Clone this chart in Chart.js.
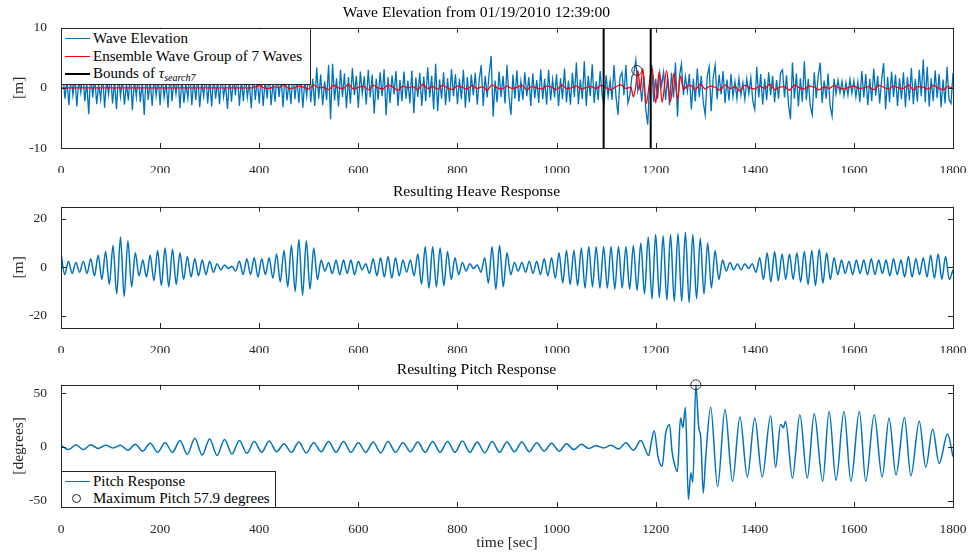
<!DOCTYPE html>
<html>
<head>
<meta charset="utf-8">
<script src="https://cdn.jsdelivr.net/npm/chart.js@4.4.1/dist/chart.umd.min.js"></script>
<style>
  html, body { margin: 0; padding: 0; background: #fff; }
  #wrap { position: relative; width: 976px; height: 558px; overflow: hidden; font-family: 'Liberation Serif', serif; }
  canvas { position: absolute; left: 0; }
  .legend { position: absolute; background: #fff; border: 1px solid #262626; font-size: 15px; color: #000; box-sizing: border-box; }
  .legend .row { position: absolute; left: 0; height: 17px; line-height: 17px; white-space: nowrap; }
  .legend .swatch { position: absolute; left: 3px; top: 8px; width: 25px; height: 0; border-top: 1.4px solid; }
  .legend .ring { position: absolute; left: 10px; top: 4px; width: 7px; height: 7px; border: 1px solid #262626; border-radius: 50%; }
  .legend .label { position: absolute; left: 31px; top: 0; }
  .legend sub { font-size: 10px; vertical-align: -3px; line-height: 0; }
</style>
</head>
<body>
<div id="wrap">
  <canvas id="waveChart" width="976" height="173" style="top:0px"></canvas>
  <canvas id="heaveChart" width="976" height="174" style="top:179px"></canvas>
  <canvas id="pitchChart" width="976" height="201" style="top:357px"></canvas>

  <div class="legend" style="left:61px; top:28px; width:250px; height:57px;">
    <div class="row" style="top:0.5px"><span class="swatch" style="border-color:#0072BD"></span><span class="label">Wave Elevation</span></div>
    <div class="row" style="top:18.5px"><span class="swatch" style="border-color:#FF0000"></span><span class="label">Ensemble Wave Group of 7 Waves</span></div>
    <div class="row" style="top:35.5px"><span class="swatch" style="border-color:#000; border-top-width:2px"></span><span class="label">Bounds of <i>τ</i><sub><i>search7</i></sub></span></div>
  </div>
  <div class="legend" style="left:61px; top:471px; width:215px; height:37px;">
    <div class="row" style="top:0.5px"><span class="swatch" style="border-color:#0072BD"></span><span class="label">Pitch Response</span></div>
    <div class="row" style="top:17.5px"><span class="ring"></span><span class="label">Maximum Pitch 57.9 degrees</span></div>
  </div>
</div>
<script>
// ---- data ----
const timeTicks = [0, 200, 400, 600, 800, 1000, 1200, 1400, 1600, 1800];
const waveTicks = [-10, 0, 10];
const heaveTicks = [-20, 0, 20];
const pitchTicks = [-50, 0, 50];

// wave elevation [m], one sample every 4 s from t = 0
const waveStep = 4;
const waveElevation = [
  0.5, 2.1, -1.8, 1.2, -2.9, 2.4, -1.2, 1.8, -3.1, 1.5, -0.8, 2.6, -2.2, 0.9, -4.4, 2.8, -1.6, 1.9, -2.7, 0.6, -1.9, 2.3, -3.3, 1.4, -1.1,
  2.5, -2.6, 1.1, -3.5, 2.2, -1.4, 1.6, -2.8, 0.7, -2.1, 2.9, -3.7, 1.3, -1.5, 2.4, -2.4, 0.9, -4.5, 2.7, -2.0, 1.2, -3.0, 2.0, -1.3, 1.7,
  -2.9, 2.3, -1.6, 1.0, -3.3, 2.6, -2.2, 1.5, -1.0, 2.2, -3.4, 1.8, -2.5, 0.8, -1.7, 2.8, -2.9, 1.4, -2.0, 2.1, -3.2, 1.0, -1.4, 2.5, -2.6,
  1.6, -3.1, 2.2, -1.8, 1.1, -2.7, 2.9, -1.5, 0.6, -3.5, 2.0, -2.3, 1.7, -1.2, 2.6, -3.0, 1.3, -2.2, 2.4, -1.6, 0.9, -3.4, 2.7, -2.0, 1.5,
  -2.6, 2.1, -3.0, 1.4, -1.8, 2.8, -2.9, 1.0, -2.3, 2.5, -1.5, 1.8, -3.2, 2.3, -2.1, 0.8, -2.7, 3.0, -1.9, 1.6, -2.5, 2.2, -3.3, 1.2, -1.4,
  2.9, -2.4, 1.5, -3.0, 3.4, -1.8, 2.2, -2.9, 1.1, -2.0, 3.8, -5.2, 4.0, -2.1, 1.6, -3.1, 3.0, -1.5, 2.4, -3.4, 1.8, -2.6, 3.3, -1.2, 2.0,
  -3.3, 2.7, -1.0, 1.9, -2.8, 3.0, -1.6, 2.2, -4.3, 1.5, -2.0, 2.6, -1.4, 3.1, -4.6, 1.8, -2.5, 2.1, -1.1, 2.8, -3.0, 1.3, -2.2, 2.7, -1.8,
  1.2, -2.6, 2.9, -4.2, 1.7, -1.5, 2.5, -3.0, 1.9, -2.2, 3.4, -1.6, 2.0, -3.6, 4.0, -3.9, 1.4, -1.8, 2.6, -2.9, 1.6, -2.3, 3.1, -1.4, 2.3,
  -2.7, 1.5, -1.9, 3.0, -3.3, 1.8, -2.4, 2.2, -1.2, 2.5, -2.8, 1.4, 3.8, -3.0, 2.0, -1.6, 2.4, 5.3, -4.8, 1.2, -2.4, 2.7, -1.5, 2.0, -2.6,
  3.8, -1.5, -4.5, 2.2, -1.8, 2.9, -2.3, 1.1, -2.0, 2.6, -1.4, 1.8, -3.0, 2.4, -1.7, 1.3, -2.5, 3.1, -1.9, 1.5, -2.8, 3.0, -2.1, 1.4, -1.6,
  2.3, -3.0, 1.6, -1.9, 3.2, -2.4, 1.2, -2.8, 2.5, -1.5, 4.2, -2.7, 1.4, -1.9, 4.4, -3.0, 2.0, -1.4, 3.9, -2.5, 1.1, -2.0, 2.8, -1.3, -2.8,
  2.1, -1.4, 1.2, -2.0, 3.8, -1.5, -4.5, 1.8, 2.6, -1.2, 3.8, -2.5, -1.2, 1.9, 2.4, 4.6, -0.5, 1.0, -2.3, 2.0, -3.6, -6.1, 1.2, 3.8, -2.3,
  1.5, -1.8, 2.5, 0.4, 2.6, -2.0, 1.7, -2.9, 2.5, -1.6, 4.2, -4.8, 2.0, 4.0, -1.2, 1.9, -0.6, 2.3, -3.6, 1.5, -2.2, 3.2, -1.5, 2.0, -2.4,
  -4.5, 1.9, 3.5, -3.9, 1.6, 3.8, -1.9, 2.2, -1.1, 2.8, -2.5, 1.4, -2.1, 2.3, -1.5, 1.0, -1.8, 1.6, -1.2, 0.9, -1.9, 1.5, -1.0, 1.7, -2.2,
  -3.6, 3.5, -1.6, 2.3, -2.8, 1.5, -2.0, 2.6, -1.2, 2.0, -2.4, 1.3, -1.8, 2.5, 3.0, -1.6, 2.1, -2.7, -5.2, 4.2, -1.8, 2.4, -3.1, 1.6, -2.3,
  4.4, -2.0, 1.5, -3.0, -4.5, 2.6, -1.7, 1.9, 4.2, -2.5, 1.2, -1.8, 2.4, -3.0, -4.7, 1.5, -1.0, 1.3, -0.8, 1.1, -1.3, 0.9, -1.2, 1.4, -0.9,
  1.2, -1.5, 1.0, -2.4, 2.8, -1.6, 2.3, -2.9, 1.5, -2.2, 3.2, -1.3, 2.0, -2.6, 1.4, 4.1, -3.6, 1.8, -2.4, 2.7, -1.5, 2.2, -3.0, 1.6, -1.9,
  2.6, -3.2, 1.8, -2.1, 3.3, -2.7, 1.5, -2.3, 3.0, -1.4, 4.7, -2.4, 3.5, -3.1, 1.6, -2.2, 2.9, -1.7, 2.3, -3.2, 1.4, -2.6, 3.5, -2.0, -2.6,
  2.5
];

// ensemble wave group (red): flat start, small ripples, the 7-wave group, ripples again
const ensembleFlatTime = [0, 370];
const ensembleFlatValue = [0, 0];
const rippleStep = 10;
const rippleStart1 = 380;
const ensembleRipple1 = [
  0, 0.1, 0.4, 0, -0.1, 0.2, 0, 0.5, -0.1, 0, 0.3, 0.1, -0.2, 0.5, 0, 0.1, -0.3, 0.4, 0, -0.1,
  0.6, -0.2, 0.1, 0.3, -0.3, 0.4, 0, -0.2, 0.5, 0.1, -0.4, 0.3, 0, 0.2, -0.3, 0.6, -0.1, 0.2, -0.2, 0.4,
  0, -0.3, 0.3, 0.1, -0.2, 0.4, -0.1, 0.2, -0.4, 0.5, 0, -0.2, 0.3, -0.1, 0.1, 0.4, -0.3, 0.2, 0, -0.2,
  0.3, 0.1, -0.3, 0.5, -0.1, 0, 0.3, -0.2, 0.1, 0.2, -0.1, 0.4, 0, -0.3, 0.2, 0.5, -0.1
];
const ensembleGroupTime = [1150, 1155, 1160, 1164, 1169, 1174, 1181, 1187, 1193, 1200, 1207, 1213, 1222, 1230, 1237, 1244, 1250, 1256, 1262];
const ensembleGroupValue = [0.1, -1.5, 0.3, 2.9, -0.5, 3.2, -2.6, 0.5, 3.2, -2.5, 2.6, -2.4, 2.8, -2.3, 2.5, -1.9, 2.0, -0.3, 0.2];
const rippleStart2 = 1270;
const ensembleRipple2 = [
  0.4, -0.3, 0.6, -0.2, 0.3, 0.1, -0.4, 0.5, -0.1, 0.2, -0.5, 0.4, 0, -0.2, 0.3, -0.1, 0.6, -0.3, 0.1, 0.2,
  -0.4, 0.5, 0, -0.2, 0.3, 0.1, -0.3, 0.2, -0.1, 0.4, 0, -0.2, 0.1, 0.3, -0.1, 0, 0.2, -0.3, 0.4, 0.1,
  -0.2, 0.3, 0, -0.1, 0.5, -0.3, 0.2, 0.1, -0.2, 0.4, 0, -0.3, 0.2, -0.1
];

const boundsTime = [1095, 1190];
const groupMarkTime = [1162];
const groupMarkValue = [2.9];

// heave response [m], peaks and troughs every 7.5 s
const heaveStep = 7.5;
const heaveResponse = [
  6, -3, 2.5, -2.5, 2, -2, 2.5, -2.5, 3.5, -3.5,
  5, -5, 6.5, -7, 9, -11, 12.5, -12, 11, -8,
  6, -3.5, 3, -4, 5, -5.5, 7, -7.5, 8, -8,
  7.5, -7, 6, -5, 4.5, -4, 3.5, -3.5, 3, -3,
  2.5, -2, 1.5, -1, 1, -0.5, 0.5, -1.5, 2.5, -3,
  3.5, -3, 4, -4, 3.5, -3, 4, -4.5, 5.5, -6,
  7, -8, 9, -10, 11.5, -11.5, 11, -9, 8, -5,
  3, -1.5, 2, -2.5, 3, -3, 3, -2.5, 3, -3,
  2.5, -1, 1.5, -2.5, 3.5, -3.5, 4, -4, 4.5, -4.5,
  4, -3.5, 3, -2, 3, -3.5, 5.5, -7, 8.5, -8.5,
  8.5, -8, 8, -7.5, 6.5, -5, 4, -3, 2, -1.5,
  1.5, -0.5, 1, -2, 4, -6.5, 8.5, -9, 9, -8,
  6, -3, 2, -1.5, 2, -2, 2.5, -2.5, 2.5, -3,
  3.5, -3.5, 4, -4.5, 6, -6.5, 7, -7, 7, -7.5,
  8, -8.5, 8.5, -8, 8.5, -8.5, 8.5, -8.5, 8.5, -9,
  8.5, -8.5, 8.5, -9, 9, -9.5, 10, -11, 12.5, -13,
  13.5, -12.5, 13, -13.5, 13.5, -14, 14, -14, 14.5, -14.5,
  13.5, -13, 12, -11, 10, -8.5, 7, -5, 3, -1.5,
  2, -1, 1.5, -1, 1.5, -0.5, 1.5, -2, 4, -5,
  6, -6, 6.5, -5.5, 5.5, -5, 5.5, -5, 6, -6,
  6.5, -7, 7, -7.5, 7.5, -6.5, 6, -5, 4, -3,
  3, -2.5, 2.5, -3, 3, -2.5, 3, -3, 3.5, -3,
  3, -2.5, 3, -3.5, 3.5, -3, 3, -4, 4.5, -4,
  3.5, -3, 4, -4, 5, -4.5, 5.5, -5, 4.5, -5, -1
];

// pitch response [deg]: calm part every 15 s, then the irregular part
const pitchStep = 15;
const pitchCalm = [
  1.5, -2.5, 2, -2.5, 2, -1.5, 1.5, -1, 1.5, -3,
  2.5, -4, 3.5, -5, 4, -5, 6, -7, 8, -7.5,
  7.5, -8, 7, -6.5, 6, -6, 5, -5, 5.5, -4.5,
  3, -5, 4.5, -5.5, 4, -4.5, 5, -5, 5, -5,
  4, -5, 4.5, -5.5, 5, -5, 4, -4.5, 4.5, -5,
  5, -5, 5, -5, 5.5, -5, 4.5, -5.5, 5, -5,
  4.5, -4.5, 4.5, -4.5, 4, -4, 3.5, -4, 3, -2.5,
  2.5, -1.5, 1, -1, 1.5, -2, 4, -3, 6
];
const pitchLateTime = [1186, 1191, 1197, 1205, 1213, 1220, 1228, 1233, 1238, 1244, 1250, 1255, 1260, 1266, 1271,
  1275, 1281, 1287, 1291, 1296, 1301, 1311, 1325, 1340, 1355, 1370, 1385, 1400, 1415, 1432, 1442, 1452, 1458, 1462,
  1476, 1491, 1506, 1520, 1537, 1550, 1564, 1580, 1594, 1611, 1624, 1641, 1657, 1671, 1685, 1702, 1715, 1732, 1745,
  1759, 1772, 1789, 1800];
const pitchLateValue = [-8, 4, 15, -10, -18, 12, 21, -4, -16, -23, 27, 18, 37, -49, -24,
  -33, 57.9, 18, 9, -43, -10, 37, -37, 35, -32, 28, -28, 27, -28, 29, -19, 21, 18, 24,
  -29, 30, -29, 31, -32, 33, -31, 33, -32, 33, -32, 30, -28, 27, -26, 27.5, -27, 24, -19,
  16.5, -15.5, 12, -9];
const pitchMaxTime = [1281];
const pitchMaxValue = [57.9];

// ---- helpers ----
const FONT = 'Liberation Serif';
const BLUE = '#0072BD';
const AXIS = '#262626';

function uniformSeries(values, step, start) {
  start = start || 0;
  return values.map((v, i) => ({ x: start + i * step, y: v }));
}
function pairedSeries(times, values) {
  return times.map((t, i) => ({ x: t, y: values[i] }));
}

// MATLAB-like box with inward ticks on all four sides
const matlabAxes = {
  id: 'matlabAxes',
  afterDatasetsDraw(chart) {
    const { ctx, chartArea: a, scales } = chart;
    ctx.save();
    ctx.strokeStyle = AXIS;
    ctx.lineWidth = 1;
    ctx.strokeRect(Math.round(a.left) + 0.5, Math.round(a.top) + 0.5, Math.round(a.right - a.left), Math.round(a.bottom - a.top));
    ctx.beginPath();
    scales.x.ticks.forEach(t => {
      const px = Math.round(scales.x.getPixelForValue(t.value)) + 0.5;
      ctx.moveTo(px, a.bottom); ctx.lineTo(px, a.bottom - 5);
      ctx.moveTo(px, a.top); ctx.lineTo(px, a.top + 5);
    });
    scales.y.ticks.forEach(t => {
      const py = Math.round(scales.y.getPixelForValue(t.value)) + 0.5;
      ctx.moveTo(a.left, py); ctx.lineTo(a.left + 5, py);
      ctx.moveTo(a.right, py); ctx.lineTo(a.right - 5, py);
    });
    ctx.stroke();
    ctx.restore();
  }
};

function makePanel(id, cfg) {
  return new Chart(document.getElementById(id), {
    type: 'line',
    data: { datasets: cfg.datasets },
    options: {
      responsive: false,
      animation: false,
      devicePixelRatio: 1,
      layout: { padding: { left: 0, right: 23, top: 0, bottom: 0 } },
      elements: { point: { radius: 0 } },
      plugins: {
        legend: { display: false },
        tooltip: { enabled: false },
        title: {
          display: true, text: cfg.title, color: '#000',
          font: { family: FONT, size: 15.6, weight: 'normal' },
          padding: { top: 4, bottom: 5 }
        }
      },
      scales: {
        x: {
          type: 'linear', min: 0, max: 1800,
          grid: { display: false }, border: { display: false },
          afterBuildTicks: s => { s.ticks = timeTicks.map(v => ({ value: v })); },
          afterFit: s => { s.height = cfg.xHeight; },
          ticks: { color: AXIS, font: { family: FONT, size: 13.5 }, padding: 6, maxRotation: 0, autoSkip: false,
                   callback: v => String(v) },
          title: {
            display: !!cfg.xTitle, text: cfg.xTitle || '', color: AXIS,
            font: { family: FONT, size: 15.5 }, padding: { top: 0, bottom: 6 }
          }
        },
        y: {
          min: cfg.yMin, max: cfg.yMax,
          grid: { display: false }, border: { display: false },
          afterBuildTicks: s => { s.ticks = cfg.yTicks.map(v => ({ value: v })); },
          afterFit: s => { s.width = 61; },
          ticks: { color: AXIS, font: { family: FONT, size: 13.5 }, padding: 6, callback: v => String(v) },
          title: {
            display: true, text: cfg.yTitle, color: AXIS,
            font: { family: FONT, size: 15.5 }, padding: { top: 10, bottom: 0 }
          }
        }
      }
    },
    plugins: [matlabAxes]
  });
}

// ---- panel 1: wave elevation ----
const ensembleData = pairedSeries(ensembleFlatTime, ensembleFlatValue)
  .concat(uniformSeries(ensembleRipple1, rippleStep, rippleStart1))
  .concat(pairedSeries(ensembleGroupTime, ensembleGroupValue))
  .concat(uniformSeries(ensembleRipple2, rippleStep, rippleStart2));

const boundsData = [];
boundsTime.forEach((t, i) => {
  if (i > 0) boundsData.push({ x: t, y: null });
  boundsData.push({ x: t, y: waveTicks[0] }, { x: t, y: waveTicks[waveTicks.length - 1] });
});

makePanel('waveChart', {
  title: 'Wave Elevation from 01/19/2010 12:39:00',
  yTitle: '[m]', yMin: -10, yMax: 10, yTicks: waveTicks, xHeight: 25,
  datasets: [
    { label: 'Wave Elevation', data: uniformSeries(waveElevation, waveStep), borderColor: BLUE, borderWidth: 1.3, tension: 0, order: 4 },
    { label: 'Ensemble Wave Group of 7 Waves', data: ensembleData, borderColor: '#FF0000', borderWidth: 1.3, cubicInterpolationMode: 'monotone', order: 3 },
    { label: 'Bounds', data: boundsData, borderColor: '#000', borderWidth: 2, spanGaps: false, order: 2 },
    { label: 'Group max', data: pairedSeries(groupMarkTime, groupMarkValue), showLine: false, pointRadius: 5, clip: false,
      pointBorderColor: '#333', pointBackgroundColor: 'rgba(0,0,0,0)', pointBorderWidth: 1, order: 1 }
  ]
});

// ---- panel 2: heave ----
makePanel('heaveChart', {
  title: 'Resulting Heave Response',
  yTitle: '[m]', yMin: -25, yMax: 25, yTicks: heaveTicks, xHeight: 25,
  datasets: [
    { label: 'Heave', data: uniformSeries(heaveResponse, heaveStep), borderColor: BLUE, borderWidth: 1.5, cubicInterpolationMode: 'monotone' }
  ]
});

// ---- panel 3: pitch ----
const pitchData = uniformSeries(pitchCalm, pitchStep).concat(pairedSeries(pitchLateTime, pitchLateValue));
makePanel('pitchChart', {
  title: 'Resulting Pitch Response',
  yTitle: '[degrees]', yMin: -56, yMax: 58, yTicks: pitchTicks, xHeight: 51, xTitle: 'time [sec]',
  datasets: [
    { label: 'Pitch Response', data: pitchData, borderColor: BLUE, borderWidth: 1.5, cubicInterpolationMode: 'monotone', order: 2 },
    { label: 'Maximum Pitch 57.9 degrees', data: pairedSeries(pitchMaxTime, pitchMaxValue), showLine: false, pointRadius: 5, clip: false,
      pointBorderColor: '#333', pointBackgroundColor: 'rgba(0,0,0,0)', pointBorderWidth: 1, order: 1 }
  ]
});
</script>
</body>
</html>
